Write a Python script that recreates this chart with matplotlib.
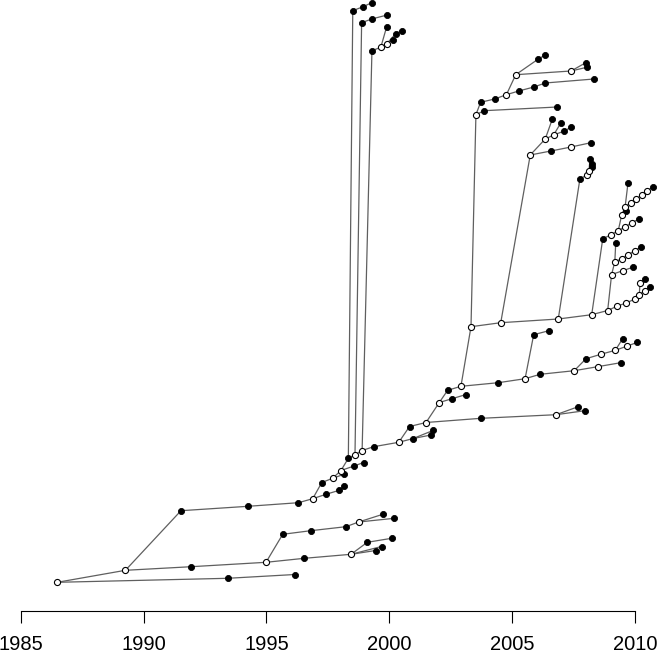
import numpy as np
import matplotlib.pyplot as plt
from matplotlib.collections import LineCollection

plt.rcParams['font.family'] = ['Liberation Sans', 'DejaVu Sans']

# tree nodes: sampling time (year), vertical layout position, parent node (-1 = root)
year = [
    1986.49, 1989.26, 1993.42, 1996.16, 1991.52, 1991.94, 1994.98, 1994.25, 1996.30, 1996.88,
    1995.66, 1996.80, 1998.23, 1998.75, 1999.73, 2000.20, 1996.54, 1998.44, 1999.10, 2000.09,
    1999.44, 1999.68, 1997.25, 1997.42, 1997.96, 1998.17, 1997.69, 1998.03, 1998.15, 1998.33,
    1998.56, 1998.95, 1998.60, 1998.51, 1998.93, 1999.28, 1998.89, 1998.87, 1999.28, 1999.91,
    1999.36, 1999.29, 1999.65, 1999.89, 1999.89, 2000.13, 2000.50, 2000.25, 2000.38, 2000.82,
    2000.97, 2001.69, 2001.79, 2001.49, 2002.03, 2003.73, 2006.78, 2007.68, 2007.95, 2002.37,
    2002.55, 2003.12, 2002.91, 2004.43, 2005.52, 2005.87, 2006.49, 2006.13, 2007.52, 2008.00,
    2008.60, 2009.19, 2009.49, 2009.65, 2010.09, 2008.47, 2009.41, 2003.32, 2004.53, 2006.87,
    2008.23, 2008.88, 2009.25, 2009.63, 2009.99, 2010.17, 2010.38, 2010.61, 2010.19, 2010.41,
    2009.04, 2009.50, 2009.93, 2009.17, 2009.21, 2009.45, 2009.72, 2009.98, 2010.25, 2008.68,
    2009.00, 2009.31, 2009.60, 2009.87, 2010.15, 2009.45, 2009.61, 2009.59, 2009.71, 2009.82,
    2010.03, 2010.26, 2010.49, 2010.74, 2007.75, 2008.03, 2008.12, 2008.24, 2008.26, 2008.16,
    2005.73, 2006.34, 2006.57, 2007.39, 2008.20, 2006.63, 2006.68, 2006.98, 2007.12, 2007.40,
    2003.52, 2003.85, 2006.83, 2003.71, 2004.28, 2004.76, 2005.26, 2005.88, 2006.34, 2008.32,
    2005.14, 2006.06, 2006.34, 2007.39, 2007.99, 2008.03,
]
height = [
    28.7, 40.7, 32.7, 36.5, 100.3, 44.3, 48.7, 104.7, 108.3, 112.3,
    76.7, 80.3, 84.3, 89, 96.7, 92.7, 52.7, 56.7, 68.7, 72.7,
    60.5, 64.5, 128.5, 116.7, 120.7, 124.7, 132.7, 140.5, 136.7, 152.7,
    145, 148.5, 156.2, 600.3, 604.3, 608.3, 160.5, 588.3, 592, 596,
    164.3, 560.3, 563.7, 584.3, 567.3, 571, 580.3, 577, 168.7, 184.5,
    172.5, 176, 180.7, 188.5, 208.5, 192.7, 196.3, 204.3, 200.3, 220.7,
    212.3, 216.5, 224.7, 228.3, 232.3, 276.3, 280.3, 236.7, 240.3, 252.3,
    256.7, 260.7, 272.3, 264.7, 268.7, 244.3, 248.3, 284.3, 288.3, 292,
    296.3, 300.5, 304.7, 308, 312, 316, 320.5, 324.5, 328.3, 332.5,
    336.5, 340.3, 344, 349, 368.5, 352.3, 356.3, 360.3, 364.3, 372.3,
    376, 380.3, 384.3, 388.3, 392, 396, 399.7, 404.3, 428.5, 408.3,
    411.7, 416, 420.3, 424.3, 432, 436, 440, 444, 447.5, 452,
    456, 472, 460, 464, 468.3, 492, 476, 488.3, 480, 484,
    496.3, 500.3, 504, 508.7, 512, 516.3, 520, 524, 528, 532,
    536.3, 552, 556, 540, 548.3, 543.7,
]
parent = [
    -1, 0, 0, 2, 1, 1, 5, 4, 7, 8,
    6, 10, 11, 12, 13, 13, 6, 16, 17, 18,
    17, 17, 9, 9, 23, 24, 22, 26, 26, 27,
    27, 30, 29, 29, 33, 34, 32, 32, 37, 38,
    36, 36, 41, 42, 42, 44, 47, 44, 40, 48,
    48, 50, 50, 49, 53, 53, 55, 56, 56, 54,
    54, 60, 59, 62, 63, 64, 65, 64, 67, 68,
    69, 70, 71, 71, 73, 68, 75, 62, 77, 78,
    79, 80, 81, 82, 83, 84, 85, 86, 85, 88,
    81, 90, 91, 90, 93, 93, 95, 96, 97, 80,
    99, 100, 101, 102, 103, 101, 105, 105, 107, 107,
    109, 110, 111, 112, 79, 114, 115, 116, 116, 116,
    78, 120, 120, 122, 123, 121, 121, 126, 126, 128,
    77, 130, 131, 130, 133, 134, 135, 136, 137, 138,
    135, 140, 141, 140, 143, 143,
]
# 1 = internal node (open circle), 0 = sampled node (filled)
hollow = [
    1, 1, 0, 0, 0, 0, 1, 0, 0, 1,
    0, 0, 0, 1, 0, 0, 0, 1, 0, 0,
    0, 0, 0, 0, 0, 0, 1, 1, 0, 0,
    0, 0, 1, 0, 0, 0, 1, 0, 0, 0,
    0, 0, 1, 0, 1, 0, 0, 0, 1, 0,
    0, 0, 0, 1, 1, 0, 1, 0, 0, 0,
    0, 0, 1, 0, 1, 0, 0, 0, 1, 0,
    1, 1, 0, 1, 0, 1, 0, 1, 1, 1,
    1, 1, 1, 1, 1, 1, 1, 0, 1, 0,
    1, 1, 0, 1, 0, 1, 1, 1, 0, 0,
    1, 1, 1, 1, 0, 1, 0, 1, 0, 1,
    1, 1, 1, 0, 0, 1, 1, 0, 0, 0,
    1, 1, 0, 1, 0, 0, 1, 0, 0, 0,
    1, 0, 0, 0, 0, 1, 0, 0, 0, 0,
    1, 0, 0, 1, 0, 0,
]
year_ticks = [1985, 1990, 1995, 2000, 2005, 2010]

yr = np.array(year)
ht = np.array(height)
ho = np.array(hollow, dtype=bool)

fig = plt.figure(figsize=(6.57, 6.55), dpi=100)
ax = fig.add_axes([0, 0, 1, 1])

segs = [[(yr[p], ht[p]), (yr[i], ht[i])] for i, p in enumerate(parent) if p >= 0]
ax.add_collection(LineCollection(segs, colors='#5f5f5f', linewidths=0.9, zorder=1))

ax.plot(yr[~ho], ht[~ho], 'o', ms=4.4, mfc='black', mec='black', mew=0.6,
        zorder=3, clip_on=False)
ax.plot(yr[ho], ht[ho], 'o', ms=4.4, mfc='white', mec='black', mew=0.8,
        zorder=3, clip_on=False)

ax.set_xlim(1984.158, 2010.887)
ax.set_ylim(-44, 611)
ax.patch.set_visible(False)
for s in ['left', 'right', 'top']:
    ax.spines[s].set_visible(False)
ax.spines['bottom'].set_position(('data', 0))
ax.spines['bottom'].set_bounds(1985, 2010)
ax.spines['bottom'].set_linewidth(0.8)
ax.set_yticks([])
ax.set_xticks(year_ticks)
ax.tick_params(axis='x', length=8.6, width=0.8, pad=8.5, labelsize=14.5, direction='out')

fig.savefig('out.png', dpi=100)
